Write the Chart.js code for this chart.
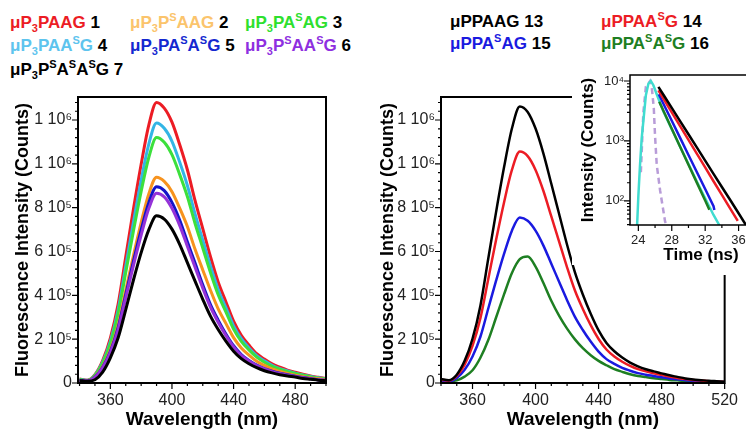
<!DOCTYPE html>
<html>
<head>
<meta charset="utf-8">
<script src="https://cdn.jsdelivr.net/npm/chart.js@4.4.1/dist/chart.umd.min.js"></script>
<style>
    html, body { margin: 0; padding: 0; overflow: hidden; background: #fff; }
    #wrap { position: relative; width: 746px; height: 432px; overflow: hidden; background: #fff;
            font-family: "Liberation Sans", Arial, sans-serif; }
    canvas { position: absolute; }
    .leg { position: absolute; font-weight: bold; font-size: 17px; line-height: 20px; white-space: nowrap; }
    .leg sub, .leg sup { font-size: 11px; line-height: 0; position: relative; vertical-align: baseline; }
    .leg sub { top: 4px; }
    .leg sup { top: -7px; }
    .leg .n { color: #000; }
    #inset { position: absolute; left: 572px; top: 55px; width: 174px; height: 210px; background: #fff; overflow: hidden; }
</style>
</head>
<body>
<div id="wrap">
    <div class="leg" style="left:10px;top:13px;color:#ec1c24">μP<sub>3</sub>PAAG <span class="n">1</span></div>
    <div class="leg" style="left:130px;top:13px;color:#fbc46c">μP<sub>3</sub>P<sup>S</sup>AAG <span class="n">2</span></div>
    <div class="leg" style="left:245px;top:13px;color:#2ee02e">μP<sub>3</sub>PA<sup>S</sup>AG <span class="n">3</span></div>
    <div class="leg" style="left:10px;top:36px;color:#5ec4ee">μP<sub>3</sub>PAA<sup>S</sup>G <span class="n">4</span></div>
    <div class="leg" style="left:130px;top:36px;color:#1428d0">μP<sub>3</sub>PA<sup>S</sup>A<sup>S</sup>G <span class="n">5</span></div>
    <div class="leg" style="left:245px;top:36px;color:#8e2fe0">μP<sub>3</sub>P<sup>S</sup>AA<sup>S</sup>G <span class="n">6</span></div>
    <div class="leg" style="left:10px;top:60px;color:#000">μP<sub>3</sub>P<sup>S</sup>A<sup>S</sup>A<sup>S</sup>G 7</div>

    <div class="leg" style="left:450px;top:12px;color:#000">μPPAAG 13</div>
    <div class="leg" style="left:601px;top:12px;color:#ec1c24">μPPAA<sup>S</sup>G <span class="n">14</span></div>
    <div class="leg" style="left:450px;top:34px;color:#1a1ae0">μPPA<sup>S</sup>AG <span class="n">15</span></div>
    <div class="leg" style="left:601px;top:34px;color:#1e7f22">μPPA<sup>S</sup>A<sup>S</sup>G <span class="n">16</span></div>

    <canvas id="left-chart" width="373" height="352" style="left:0;top:80px"></canvas>
    <canvas id="right-chart" width="373" height="352" style="left:373px;top:80px"></canvas>
    <div id="inset"><canvas id="inset-chart" width="210" height="220" style="left:0;top:0"></canvas></div>
</div>

<script>
// emission spectra, intensity in units of 10^5 counts
var waveLeft = [340, 345, 350, 355, 360, 365, 370, 375, 380, 385, 390, 395, 400, 405, 410, 415, 420,
    425, 430, 435, 440, 445, 450, 455, 460, 465, 470, 475, 480, 485, 490, 495, 500];
var waveRight = [340, 345, 350, 355, 360, 365, 370, 375, 380, 385, 390, 395, 400, 405, 410, 415, 420,
    425, 430, 435, 440, 445, 450, 455, 460, 465, 470, 475, 480, 485, 490, 495, 500, 505, 510, 515, 520];

var spec1 = [0.18, 0.13, 0.38, 1.02, 2.05, 3.58, 5.76, 7.94, 9.98, 11.78, 12.80, 12.54, 11.90, 10.88, 9.73, 8.32, 7.04,
    5.76, 4.61, 3.71, 2.82, 2.18, 1.73, 1.34, 1.09, 0.87, 0.72, 0.59, 0.49, 0.40, 0.32, 0.26, 0.20];
var spec2 = [0.13, 0.09, 0.28, 0.75, 1.50, 2.63, 4.23, 5.82, 7.32, 8.64, 9.39, 9.20, 8.73, 7.98, 7.14, 6.10, 5.16,
    4.23, 3.38, 2.72, 2.07, 1.60, 1.27, 0.99, 0.80, 0.64, 0.53, 0.43, 0.36, 0.29, 0.23, 0.19, 0.15];
var spec3 = [0.16, 0.11, 0.34, 0.90, 1.79, 3.14, 5.04, 6.94, 8.74, 10.30, 11.20, 10.98, 10.42, 9.52, 8.51, 7.28, 6.16,
    5.04, 4.03, 3.25, 2.46, 1.90, 1.51, 1.18, 0.95, 0.76, 0.63, 0.52, 0.43, 0.35, 0.28, 0.22, 0.18];
var spec4 = [0.17, 0.12, 0.36, 0.95, 1.90, 3.32, 5.34, 7.35, 9.25, 10.91, 11.86, 11.62, 11.03, 10.08, 9.01, 7.71, 6.52,
    5.34, 4.27, 3.44, 2.61, 2.02, 1.60, 1.25, 1.01, 0.81, 0.66, 0.55, 0.45, 0.37, 0.30, 0.24, 0.19];
var spec5 = [0.13, 0.09, 0.27, 0.72, 1.43, 2.51, 4.03, 5.56, 6.99, 8.24, 8.96, 8.78, 8.24, 7.44, 6.45, 5.47, 4.48,
    3.58, 2.87, 2.24, 1.70, 1.30, 1.03, 0.82, 0.66, 0.54, 0.45, 0.38, 0.31, 0.25, 0.20, 0.15, 0.12];
var spec6 = [0.12, 0.09, 0.26, 0.69, 1.39, 2.42, 3.90, 5.37, 6.75, 7.97, 8.66, 8.49, 7.97, 7.19, 6.24, 5.28, 4.33,
    3.46, 2.77, 2.17, 1.65, 1.26, 1.00, 0.80, 0.64, 0.52, 0.43, 0.36, 0.30, 0.24, 0.19, 0.15, 0.11];
var spec7 = [0.12, 0.08, 0.15, 0.50, 1.15, 2.05, 3.35, 4.70, 5.95, 7.00, 7.63, 7.48, 7.02, 6.33, 5.49, 4.65, 3.82,
    3.05, 2.44, 1.91, 1.45, 1.11, 0.88, 0.70, 0.56, 0.46, 0.38, 0.32, 0.27, 0.21, 0.17, 0.13, 0.10];

var spec13 = [0.18, 0.13, 0.38, 1.01, 2.02, 3.53, 5.68, 7.82, 9.84, 11.61, 12.62, 12.37, 11.61, 10.47, 9.09, 7.70, 6.31,
    5.05, 4.04, 3.16, 2.40, 1.83, 1.45, 1.16, 0.93, 0.76, 0.63, 0.53, 0.44, 0.35, 0.28, 0.21, 0.16, 0.13, 0.10, 0.08, 0.06];
var spec14 = [0.15, 0.11, 0.32, 0.84, 1.69, 2.96, 4.75, 6.55, 8.24, 9.72, 10.56, 10.35, 9.72, 8.76, 7.60, 6.44, 5.28,
    4.22, 3.38, 2.64, 2.01, 1.53, 1.21, 0.97, 0.78, 0.63, 0.53, 0.44, 0.37, 0.30, 0.23, 0.18, 0.14, 0.11, 0.08, 0.06, 0.05];
var spec15 = [0.11, 0.08, 0.23, 0.60, 1.21, 2.11, 3.40, 4.68, 5.89, 6.95, 7.55, 7.40, 6.95, 6.27, 5.44, 4.61, 3.78,
    3.02, 2.42, 1.89, 1.43, 1.09, 0.87, 0.69, 0.56, 0.45, 0.38, 0.32, 0.26, 0.21, 0.17, 0.13, 0.10, 0.08, 0.06, 0.05, 0.04];
var spec16 = [0.12, 0.07, 0.12, 0.29, 0.58, 1.15, 1.96, 3.00, 4.04, 5.02, 5.65, 5.77, 5.31, 4.56, 3.75, 3.06, 2.48,
    1.99, 1.59, 1.27, 1.01, 0.81, 0.63, 0.51, 0.40, 0.32, 0.27, 0.22, 0.18, 0.14, 0.12, 0.09, 0.07, 0.06, 0.05, 0.03, 0.03];

var yTickVals = [0, 2, 4, 6, 8, 10, 12];
var yTickLabels = ["0", "2 10⁵", "4 10⁵", "6 10⁵", "8 10⁵", "1 10⁶", "1 10⁶"];
var xTicksLeft = [360, 400, 440, 480];
var xTicksRight = [360, 400, 440, 480, 520];

// inset: fluorescence decays (time in ns, counts)
var tIrf = [24.3, 24.6, 24.9, 25.4, 25.6, 25.85, 26.0, 26.2, 26.6, 27.2, 27.4];
var yIrf = [300, 3000, 8000, 10000, 8000, 3500, 1200, 400, 150, 45, 39];
var tCyan = [23.85, 24.0, 24.2, 24.4, 24.7, 24.9, 25.2, 25.5, 25.8, 26.2, 27, 28, 29, 30, 31, 32, 33, 33.7];
var yCyan = [39, 120, 400, 1100, 3000, 5800, 9000, 10000, 8500, 6000, 3100, 1560, 800, 410, 210, 110, 58, 39];
var tBlack = [26.4, 27, 28, 29, 30, 31, 32, 33, 34, 35, 36, 37];
var yBlack = [8000, 5900, 3560, 2140, 1290, 778, 469, 282, 170, 103, 62, 37];
var tRed = [26.4, 27, 28, 29, 30, 31, 32, 33, 34, 35, 35.9];
var yRed = [7000, 5090, 3000, 1770, 1040, 612, 360, 212, 125, 74, 46];
var tBlue = [26.45, 27, 28, 29, 30, 31, 32, 33, 33.1];
var yBlue = [6000, 4180, 2170, 1125, 583, 303, 157, 81, 70];
var tGreen = [26.5, 27, 28, 29, 30, 31, 32, 32.5];
var yGreen = [4500, 3180, 1600, 800, 401, 201, 101, 71];
var insetXTicks = [24, 28, 32, 36];
var insetYTicks = [100, 1000, 10000];
var insetYLabels = ["10²", "10³", "10⁴"];

var FONT = "'Liberation Sans', Arial, sans-serif";
Chart.defaults.font.family = FONT;
Chart.defaults.color = "#222";

// box round the plot area plus major/minor tick marks
// topEnd / rightStart let the right panel leave room for the inset
var framePlugin = {
    id: "frame",
    afterDatasetsDraw: function (chart, args, o) {
        var ctx = chart.ctx;
        var a = chart.chartArea;
        var xs = chart.scales.x;
        var ys = chart.scales.y;
        var topEnd = o.topEnd || a.right;
        var rightStart = o.rightStart || a.top;
        ctx.save();
        ctx.strokeStyle = "#000";
        ctx.lineWidth = o.width;
        ctx.beginPath();
        ctx.moveTo(topEnd, a.top);
        ctx.lineTo(a.left, a.top);
        ctx.lineTo(a.left, a.bottom);
        ctx.lineTo(a.right, a.bottom);
        ctx.lineTo(a.right, rightStart);
        if (!o.topEnd && !o.rightStart) ctx.closePath();
        ctx.stroke();
        ctx.lineWidth = 1.2;
        ctx.beginPath();
        for (var i = 0; i < o.xMarks.length; i++) {
            var px = xs.getPixelForValue(o.xMarks[i][0]);
            ctx.moveTo(px, a.bottom);
            ctx.lineTo(px, a.bottom + o.xMarks[i][1]);
        }
        for (var j = 0; j < o.yMarks.length; j++) {
            var py = ys.getPixelForValue(o.yMarks[j][0]);
            if (py < a.top - 0.5 || py > a.bottom + 0.5) continue;
            ctx.moveTo(a.left, py);
            ctx.lineTo(a.left - o.yMarks[j][1], py);
        }
        ctx.stroke();
        ctx.restore();
    }
};

function linMarks(from, to, minor, major) {
    var out = [];
    for (var v = from; v <= to + 1e-9; v = v + minor) {
        var isMajor = Math.abs(v / major - Math.round(v / major)) < 1e-6;
        out.push([v, isMajor ? 6 : 3]);
    }
    return out;
}

function logMarks(lo, hi) {
    var out = [];
    for (var k = 1; k <= 4; k++) {
        for (var m = 1; m <= 9; m++) {
            var v = m * Math.pow(10, k);
            if (v >= lo && v <= hi) out.push([v, m === 1 ? 6 : 3]);
        }
    }
    return out;
}

function line(label, data, color, width) {
    return {
        label: label, data: data, borderColor: color, borderWidth: width,
        pointRadius: 0, tension: 0.4, cubicInterpolationMode: "monotone", fill: false
    };
}

function spectrumChart(id, waves, sets, xMin, xMax, xTicks, pad, yWidth, yTitlePad, cut) {
    var frame = { width: 2, xMarks: linMarks(Math.ceil(xMin / 10) * 10, xMax, 10, 40), yMarks: linMarks(0, 12.8, 0.4, 2) };
    if (cut) {
        frame.topEnd = cut[0];
        frame.rightStart = cut[1];
    }
    return new Chart(document.getElementById(id), {
        type: "line",
        data: { labels: waves, datasets: sets },
        options: {
            responsive: false, animation: false, devicePixelRatio: 1,
            layout: { padding: pad },
            plugins: {
                legend: { display: false }, tooltip: { enabled: false },
                frame: frame
            },
            scales: {
                x: {
                    type: "linear", min: xMin, max: xMax,
                    afterBuildTicks: function (s) { s.ticks = xTicks.map(function (v) { return { value: v }; }); },
                    afterFit: function (s) { s.height = 49; },
                    grid: { display: false, drawTicks: false },
                    border: { display: false },
                    ticks: { font: { size: 16 }, padding: 8, maxRotation: 0, callback: function (v) { return String(v); } },
                    title: { display: true, text: "Wavelength (nm)", color: "#000", font: { size: 19, weight: "bold" }, padding: { top: 0, bottom: 1 } }
                },
                y: {
                    min: 0, max: 13.05,
                    afterBuildTicks: function (s) { s.ticks = yTickVals.map(function (v) { return { value: v }; }); },
                    afterFit: function (s) { s.width = yWidth; },
                    grid: { display: false, drawTicks: false },
                    border: { display: false },
                    ticks: { font: { size: 16 }, padding: 6, callback: function (v, i) { return yTickLabels[i]; } },
                    title: { display: true, text: "Fluorescence Intensity (Counts)", color: "#000", font: { size: 18, weight: "bold" }, padding: { top: yTitlePad, bottom: 0 } }
                }
            }
        },
        plugins: [framePlugin]
    });
}

spectrumChart("left-chart", waveLeft, [
    line("7", spec7, "#000000", 3),
    line("6", spec6, "#9532d8", 3),
    line("5", spec5, "#1414c8", 3),
    line("2", spec2, "#f7931e", 3),
    line("3", spec3, "#3ce03c", 3),
    line("4", spec4, "#33b5e5", 3),
    line("1", spec1, "#ec1c24", 3)
], 339, 500, xTicksLeft, { left: 0, top: 17, right: 47, bottom: 0 }, 78, 12, null);

spectrumChart("right-chart", waveRight, [
    line("13", spec13, "#000000", 2.5),
    line("14", spec14, "#ec1c24", 2.5),
    line("15", spec15, "#1a1ae0", 2.5),
    line("16", spec16, "#1e7f22", 2.5)
], 340, 520, xTicksRight, { left: 0, top: 17, right: 18, bottom: 0 }, 68, 4, [199, 195]);

function decay(label, ts, ys, color, dash) {
    return {
        label: label,
        data: ts.map(function (t, i) { return { x: t, y: ys[i] }; }),
        borderColor: color, borderWidth: 2.5, borderDash: dash || [],
        pointRadius: 0, tension: 0, fill: false
    };
}

new Chart(document.getElementById("inset-chart"), {
    type: "line",
    data: {
        datasets: [
            decay("13", tBlack, yBlack, "#000000"),
            decay("14", tRed, yRed, "#ec1c24"),
            decay("15", tBlue, yBlue, "#1a1ae0"),
            decay("16", tGreen, yGreen, "#1e7f22"),
            decay("fit", tCyan, yCyan, "#40dcd0"),
            decay("IRF", tIrf, yIrf, "#b89cd8", [6, 4])
        ]
    },
    options: {
        responsive: false, animation: false, devicePixelRatio: 1,
        layout: { padding: { left: 0, top: 20, right: 10, bottom: 0 } },
        plugins: {
            legend: { display: false }, tooltip: { enabled: false },
            frame: { width: 1.5, xMarks: linMarks(24, 40, 2, 4), yMarks: logMarks(39.4, 12600) }
        },
        scales: {
            x: {
                type: "linear", min: 23, max: 40,
                afterBuildTicks: function (s) { s.ticks = insetXTicks.map(function (v) { return { value: v }; }); },
                afterFit: function (s) { s.height = 50; },
                grid: { display: false, drawTicks: false },
                border: { display: false },
                ticks: { font: { size: 13 }, padding: 8, maxRotation: 0, callback: function (v) { return String(v); } },
                title: { display: true, text: "Time (ns)", color: "#000", font: { size: 17, weight: "bold" }, padding: { top: 0, bottom: 9 } }
            },
            y: {
                type: "logarithmic", min: 39.4, max: 12600,
                afterBuildTicks: function (s) { s.ticks = insetYTicks.map(function (v) { return { value: v }; }); },
                afterFit: function (s) { s.width = 58; },
                grid: { display: false, drawTicks: false },
                border: { display: false },
                ticks: { font: { size: 13 }, padding: 6, callback: function (v, i) { return insetYLabels[i]; } },
                title: { display: true, text: "Intensity (Counts)", color: "#000", font: { size: 17, weight: "bold" }, padding: { top: 6, bottom: 0 } }
            }
        }
    },
    plugins: [framePlugin]
});
</script>
</body>
</html>
